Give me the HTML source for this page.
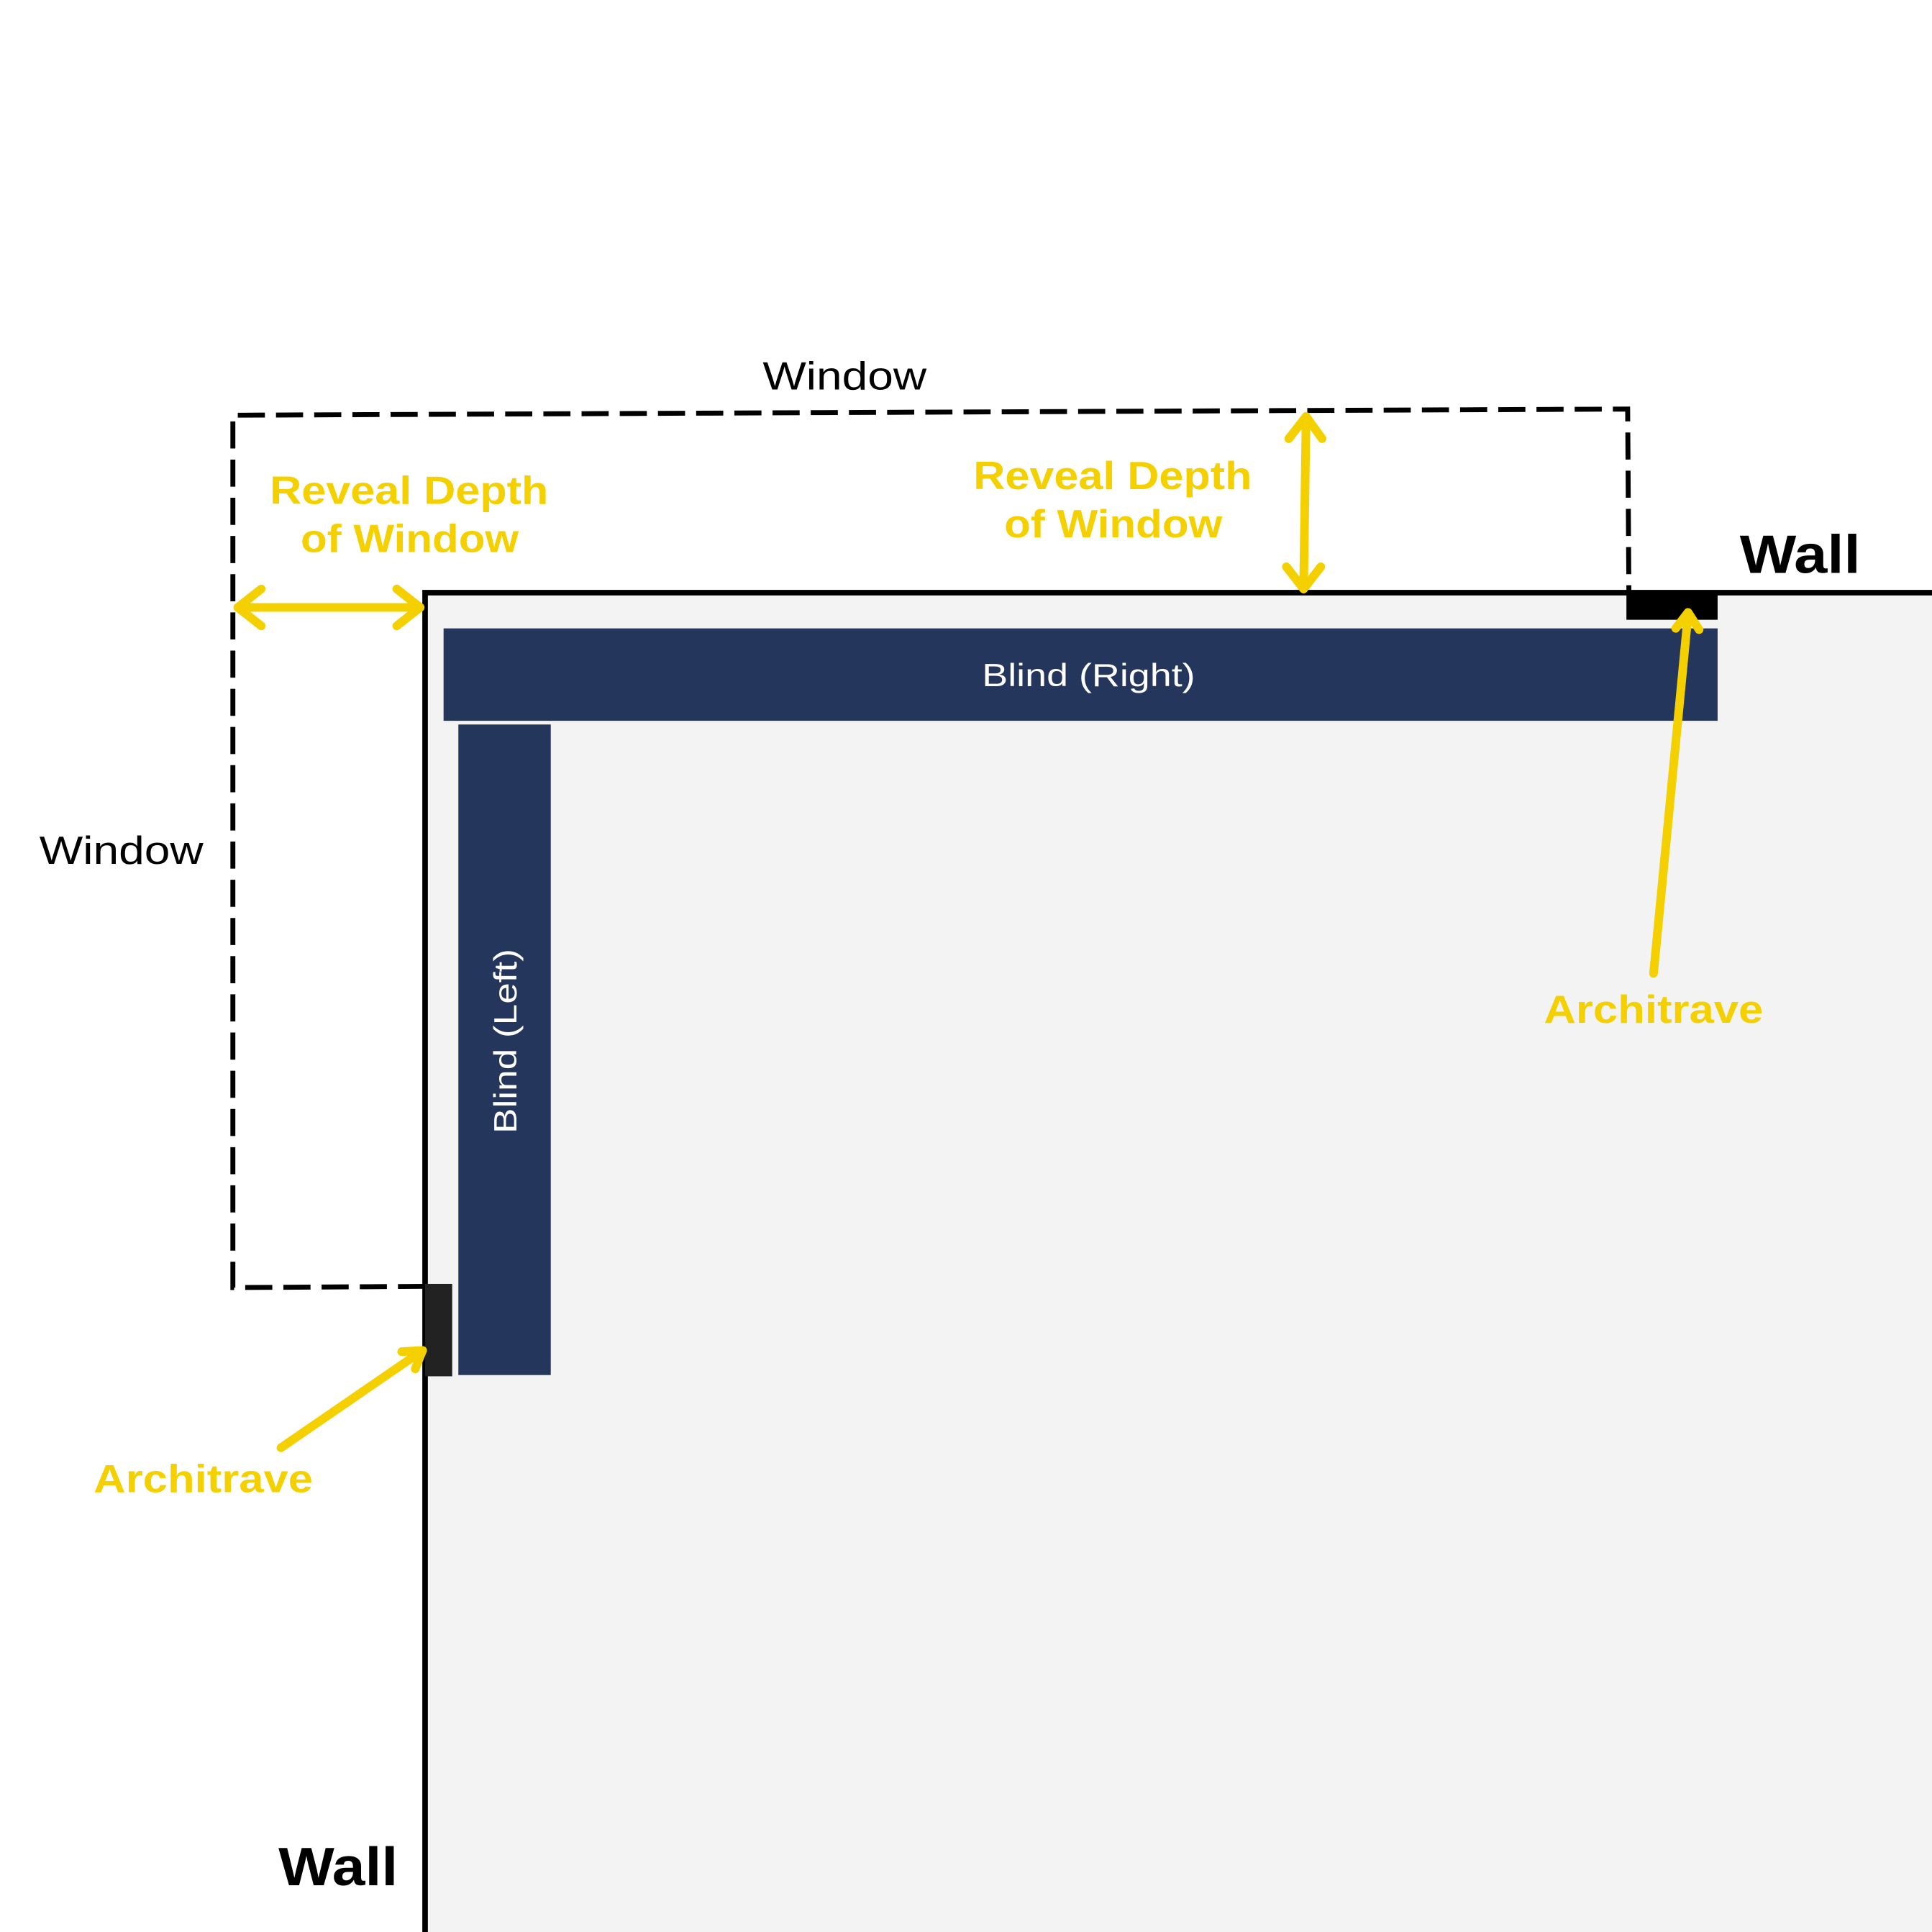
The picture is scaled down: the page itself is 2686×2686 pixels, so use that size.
<!DOCTYPE html>
<html><head><meta charset="utf-8"><style>
html,body{margin:0;padding:0;background:#fff;}
svg{display:block;}
text{font-family:"Liberation Sans",sans-serif;}
</style></head><body>
<svg width="2686" height="2686" viewBox="0 0 1568 1568" xmlns="http://www.w3.org/2000/svg">
<rect x="0" y="0" width="1568" height="1568" fill="#fff"/>
<rect x="345" y="481" width="1230" height="1100" fill="#f3f3f3" stroke="#000" stroke-width="4.5"/>
<polyline points="345,1044 189,1045 189,337 1321,332 1322,481" fill="none" stroke="#000" stroke-width="4" stroke-dasharray="22,9"/>
<rect x="1320" y="481" width="74" height="22" fill="#000"/>
<rect x="345" y="1042" width="22" height="75" fill="#222"/>
<rect x="360" y="510" width="1034" height="75" fill="#24365c"/>
<text x="797" y="557" font-size="26" fill="#fff" textLength="173" lengthAdjust="spacingAndGlyphs">Blind (Right)</text>
<rect x="372" y="588" width="75" height="528" fill="#24365c"/>
<text transform="translate(419,920) rotate(-90)" font-size="26" fill="#fff" textLength="150" lengthAdjust="spacingAndGlyphs">Blind (Left)</text>
<g stroke="#f5d000" stroke-width="7" fill="none" stroke-linecap="round" stroke-linejoin="round">
<line x1="193" y1="493" x2="341" y2="493"/>
<polyline points="212,478 193,493 212,508"/>
<polyline points="322,478 341,493 322,508"/>
<line x1="1060" y1="338" x2="1058" y2="478"/>
<polyline points="1046,356 1060,338 1073,356"/>
<polyline points="1044,460 1058,478 1072,460"/>
<line x1="1342" y1="790" x2="1370" y2="499"/>
<polyline points="1360,510 1370,497 1379,511"/>
<line x1="228" y1="1175" x2="343" y2="1096"/>
<polyline points="326,1097 343,1096 337,1111"/>
</g>
<text x="619" y="316" font-size="32" fill="#000" textLength="133" lengthAdjust="spacingAndGlyphs">Window</text>
<text x="32" y="701" font-size="32" fill="#000" textLength="133" lengthAdjust="spacingAndGlyphs">Window</text>
<text x="1412" y="465" font-size="44" font-weight="bold" fill="#000" textLength="98" lengthAdjust="spacingAndGlyphs">Wall</text>
<text x="226" y="1530" font-size="44" font-weight="bold" fill="#000" textLength="97" lengthAdjust="spacingAndGlyphs">Wall</text>
<g font-size="32" font-weight="bold" fill="#f5d000">
<text x="219" y="409" textLength="226" lengthAdjust="spacingAndGlyphs">Reveal Depth</text>
<text x="244" y="448" textLength="177" lengthAdjust="spacingAndGlyphs">of Window</text>
<text x="790" y="397" textLength="226" lengthAdjust="spacingAndGlyphs">Reveal Depth</text>
<text x="815" y="436" textLength="177" lengthAdjust="spacingAndGlyphs">of Window</text>
<text x="1253" y="830" textLength="178" lengthAdjust="spacingAndGlyphs">Architrave</text>
<text x="76" y="1211" textLength="178" lengthAdjust="spacingAndGlyphs">Architrave</text>
</g>
</svg>
</body></html>
